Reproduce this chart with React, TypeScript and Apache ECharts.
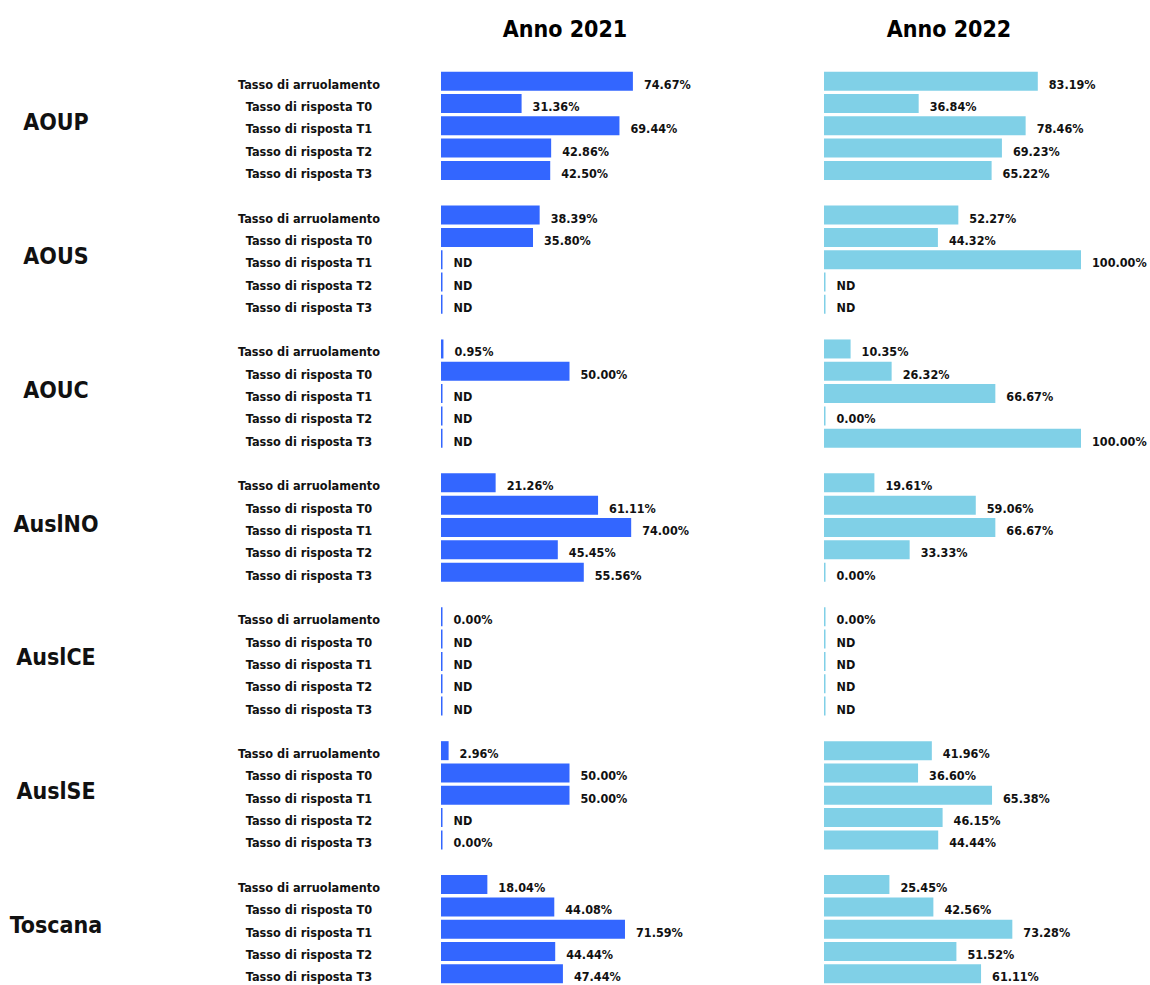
import React, { useEffect, useRef } from "react";
import * as echarts from "echarts";

const groups = ["AOUP", "AOUS", "AOUC", "AuslNO", "AuslCE", "AuslSE", "Toscana"];
const rowLabels = [
  "Tasso di arruolamento",
  "Tasso di risposta T0",
  "Tasso di risposta T1",
  "Tasso di risposta T2",
  "Tasso di risposta T3",
];
const yearTitles = ["Anno 2021", "Anno 2022"];

// null = ND
const values2021: (number | null)[][] = [
  [74.67, 31.36, 69.44, 42.86, 42.5],
  [38.39, 35.8, null, null, null],
  [0.95, 50.0, null, null, null],
  [21.26, 61.11, 74.0, 45.45, 55.56],
  [0.0, null, null, null, null],
  [2.96, 50.0, 50.0, null, 0.0],
  [18.04, 44.08, 71.59, 44.44, 47.44],
];
const values2022: (number | null)[][] = [
  [83.19, 36.84, 78.46, 69.23, 65.22],
  [52.27, 44.32, 100.0, null, null],
  [10.35, 26.32, 66.67, 0.0, 100.0],
  [19.61, 59.06, 66.67, 33.33, 0.0],
  [0.0, null, null, null, null],
  [41.96, 36.6, 65.38, 46.15, 44.44],
  [25.45, 42.56, 73.28, 51.52, 61.11],
];

const FONT = "'DejaVu Sans Condensed', 'Liberation Sans Narrow', 'Roboto', sans-serif";
const COLOR_2021 = "#3366ff";
const COLOR_2022 = "#80d0e7";

const PER_GROUP = rowLabels.length + 1;
const SLOT_COUNT = groups.length * PER_GROUP - 1;
const slots = Array.from({ length: SLOT_COUNT }, (_, i) => String(i));

function buildData(values: (number | null)[][]) {
  const out: any[] = [];
  values.forEach((grp, gi) => {
    grp.forEach((v) => out.push({ value: v === null ? 0 : v, nd: v === null }));
    if (gi < values.length - 1) out.push("-");
  });
  return out;
}

function rowLabelFor(idx: number) {
  const r = idx % PER_GROUP;
  return r < rowLabels.length ? rowLabels[r] : "";
}
function groupLabelFor(idx: number) {
  return idx % PER_GROUP === 2 ? groups[Math.floor(idx / PER_GROUP)] : "";
}

export default function App() {
  const ref = useRef<HTMLDivElement>(null);
  useEffect(() => {
    if (!ref.current) return;
    const chart = echarts.init(ref.current, undefined, { renderer: "svg" });
    const gridTop = 70;
    const gridHeight = 920;
    const labelCfg = {
      show: true,
      position: "right",
      distance: 11,
      offset: [0, 3],
      color: "#111",
      fontFamily: FONT,
      fontWeight: "bold",
      fontSize: 12.5,
      formatter: (p: any) => (p.data && p.data.nd ? "ND" : Number(p.value).toFixed(2) + "%"),
    };
    const hiddenCat = {
      type: "category",
      data: slots,
      inverse: true,
      axisLine: { show: false },
      axisTick: { show: false },
      splitLine: { show: false },
    };
    chart.setOption({
      animation: false,
      grid: [
        { left: 441, width: 257, top: gridTop, height: gridHeight },
        { left: 824, width: 257, top: gridTop, height: gridHeight },
      ],
      xAxis: [
        { type: "value", gridIndex: 0, min: 0, max: 100, show: false },
        { type: "value", gridIndex: 1, min: 0, max: 100, show: false },
      ],
      yAxis: [
        {
          ...hiddenCat,
          gridIndex: 0,
          position: "left",
          axisLabel: {
            interval: 0,
            align: "center",
            verticalAlign: "top",
            lineHeight: 6,
            margin: 132,
            color: "#111",
            fontFamily: FONT,
            fontWeight: "bold",
            fontSize: 12.6,
            formatter: (_v: string, idx: number) => rowLabelFor(idx),
          },
        },
        {
          ...hiddenCat,
          gridIndex: 0,
          position: "left",
          axisLabel: {
            interval: 0,
            align: "center",
            verticalAlign: "bottom",
            lineHeight: 8,
            margin: 385,
            color: "#111",
            fontFamily: FONT,
            fontWeight: "bold",
            fontSize: 23,
            formatter: (_v: string, idx: number) => groupLabelFor(idx),
          },
        },
        {
          ...hiddenCat,
          gridIndex: 1,
          axisLabel: { show: false },
        },
      ],
      graphic: yearTitles.map((t, i) => ({
        type: "text",
        x: i === 0 ? 565 : 949,
        y: 29,
        style: {
          text: t,
          align: "center",
          verticalAlign: "middle",
          fontFamily: FONT,
          fontWeight: "bold",
          fontSize: 23,
          fill: "#000",
        },
      })),
      series: [
        {
          type: "bar",
          name: yearTitles[0],
          xAxisIndex: 0,
          yAxisIndex: 0,
          data: buildData(values2021),
          barWidth: 19,
          barMinHeight: 1.5,
          itemStyle: { color: COLOR_2021 },
          label: labelCfg,
        },
        {
          type: "bar",
          name: yearTitles[1],
          xAxisIndex: 1,
          yAxisIndex: 2,
          data: buildData(values2022),
          barWidth: 19,
          barMinHeight: 1.5,
          itemStyle: { color: COLOR_2022 },
          label: labelCfg,
        },
      ],
    });
    return () => chart.dispose();
  }, []);
  return (
    <div
      ref={ref}
      style={{ position: "absolute", left: 0, top: 0, width: 1150, height: 985, background: "#fff" }}
    />
  );
}
